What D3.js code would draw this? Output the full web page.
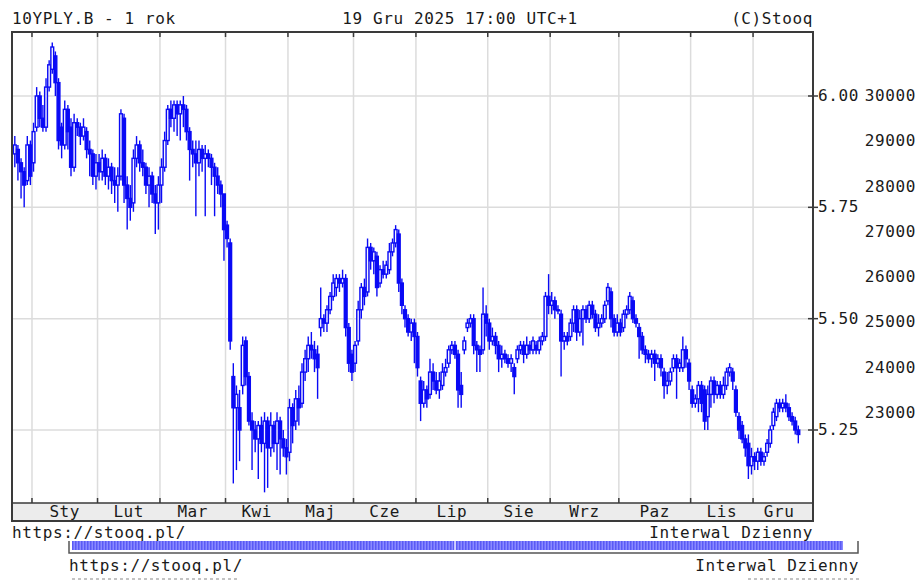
<!DOCTYPE html>
<html>
<head>
<meta charset="utf-8">
<script src="https://cdn.jsdelivr.net/npm/d3@7"></script>
<style>
  body { margin: 0; background: #fff; }
  svg text { font-family: "DejaVu Sans Mono", monospace; font-size: 16px; letter-spacing: 0.6px; fill: #1a1a1a; }
</style>
</head>
<body>
<div id="chart"></div>
<script>
// trading days per month, Dec 2024 tail first, then Jan..Dec 2025
var monthNames = ["", "Sty", "Lut", "Mar", "Kwi", "Maj", "Cze", "Lip", "Sie", "Wrz", "Paz", "Lis", "Gru"];
var monthDays = [6, 21, 20, 21, 20, 21, 20, 23, 20, 22, 23, 20, 15];

var yieldTicks = [5.25, 5.50, 5.75, 6.00];
var volTicks = [23000, 24000, 25000, 26000, 27000, 28000, 29000, 30000];

// daily candles (one line per month)
var openVals = [
  5.87,5.88,5.85,5.83,5.81,5.89,
  5.85,5.93,6.00,5.95,5.93,6.02,6.06,6.09,6.03,5.93,5.89,5.97,5.93,5.84,5.94,5.93,5.91,5.92,5.88,5.87,5.82,
  5.85,5.83,5.86,5.82,5.84,5.81,5.80,5.82,5.95,5.80,5.77,5.76,5.86,5.89,5.85,5.84,5.80,5.82,5.78,5.76,
  5.80,5.84,5.90,5.97,5.95,5.98,5.96,5.98,5.97,5.92,5.88,5.87,5.85,5.88,5.86,5.87,5.86,5.84,5.82,5.80,5.78,
  5.71,5.67,5.37,5.30,5.30,5.35,5.45,5.37,5.27,5.25,5.23,5.26,5.22,5.27,5.21,5.26,5.22,5.27,5.23,5.21,
  5.20,5.30,5.27,5.32,5.31,5.38,5.41,5.44,5.43,5.42,5.48,5.50,5.49,5.52,5.55,5.57,5.59,5.58,5.59,5.48,5.42,
  5.40,5.45,5.52,5.57,5.56,5.66,5.63,5.64,5.58,5.61,5.60,5.61,5.65,5.67,5.69,5.58,5.52,5.50,5.47,5.49,
  5.46,5.36,5.31,5.34,5.33,5.38,5.36,5.34,5.35,5.38,5.40,5.43,5.44,5.42,5.35,5.43,5.48,5.49,5.50,5.44,5.43,5.43,5.51,
  5.49,5.45,5.46,5.44,5.41,5.42,5.41,5.40,5.39,5.41,5.43,5.44,5.42,5.44,5.43,5.44,5.43,5.45,5.46,5.55,
  5.53,5.54,5.52,5.51,5.45,5.46,5.46,5.49,5.52,5.47,5.50,5.52,5.50,5.53,5.51,5.48,5.49,5.50,5.54,5.56,5.50,5.47,
  5.49,5.48,5.51,5.52,5.54,5.50,5.48,5.46,5.43,5.42,5.41,5.42,5.40,5.41,5.38,5.35,5.36,5.39,5.41,5.39,5.39,5.43,5.40,
  5.34,5.31,5.32,5.35,5.34,5.28,5.33,5.36,5.33,5.35,5.33,5.35,5.38,5.38,5.34,5.28,5.26,5.23,5.22,5.17,
  5.19,5.18,5.20,5.18,5.20,5.22,5.26,5.28,5.31,5.30,5.31,5.30,5.28,5.27,5.25
];
var highVals = [
  5.91,5.89,5.86,5.84,5.91,5.90,
  5.94,6.02,6.01,5.98,6.04,6.08,6.12,6.10,6.04,5.94,5.99,5.98,5.95,5.96,5.95,5.94,5.95,5.93,5.90,5.88,5.87,
  5.87,5.88,5.87,5.86,5.85,5.84,5.84,5.97,5.96,5.82,5.80,5.88,5.91,5.90,5.88,5.85,5.84,5.83,5.80,5.82,
  5.86,5.92,5.98,5.99,5.99,5.99,5.99,6.00,5.98,5.93,5.90,5.90,5.90,5.89,5.89,5.88,5.87,5.85,5.84,5.81,5.78,
  5.72,5.68,5.40,5.35,5.34,5.46,5.46,5.38,5.29,5.27,5.27,5.28,5.29,5.28,5.29,5.27,5.29,5.28,5.25,5.23,
  5.32,5.31,5.34,5.35,5.40,5.43,5.46,5.47,5.45,5.44,5.57,5.51,5.53,5.56,5.60,5.60,5.60,5.61,5.60,5.49,5.43,
  5.45,5.54,5.58,5.59,5.68,5.67,5.66,5.65,5.62,5.63,5.63,5.67,5.68,5.71,5.70,5.59,5.53,5.51,5.50,5.50,
  5.47,5.37,5.36,5.35,5.41,5.40,5.38,5.38,5.40,5.41,5.44,5.45,5.45,5.43,5.38,5.46,5.50,5.51,5.51,5.45,5.44,5.57,5.53,
  5.50,5.48,5.47,5.45,5.44,5.43,5.42,5.42,5.40,5.44,5.45,5.45,5.46,5.45,5.46,5.45,5.46,5.47,5.56,5.60,
  5.56,5.55,5.53,5.52,5.47,5.47,5.50,5.53,5.53,5.52,5.53,5.53,5.54,5.54,5.52,5.51,5.51,5.54,5.58,5.57,5.51,5.51,
  5.50,5.52,5.53,5.56,5.55,5.51,5.49,5.47,5.44,5.43,5.43,5.43,5.42,5.42,5.39,5.38,5.39,5.42,5.42,5.41,5.46,5.44,5.41,
  5.35,5.33,5.36,5.36,5.35,5.35,5.37,5.37,5.36,5.36,5.37,5.39,5.40,5.39,5.35,5.29,5.27,5.24,5.24,5.21,
  5.20,5.21,5.21,5.20,5.23,5.26,5.30,5.32,5.32,5.32,5.33,5.31,5.29,5.28,5.26
];
var lowVals = [
  5.84,5.81,5.77,5.75,5.80,5.80,
  5.83,5.92,5.93,5.92,5.92,6.01,6.05,6.00,5.88,5.86,5.88,5.88,5.82,5.83,5.91,5.89,5.90,5.86,5.82,5.80,5.79,
  5.81,5.81,5.80,5.79,5.78,5.76,5.74,5.81,5.76,5.70,5.72,5.74,5.84,5.83,5.82,5.78,5.75,5.76,5.69,5.70,
  5.76,5.83,5.89,5.93,5.92,5.91,5.90,5.93,5.90,5.81,5.84,5.73,5.82,5.83,5.73,5.84,5.80,5.73,5.78,5.75,5.63,
  5.66,5.43,5.13,5.16,5.18,5.33,5.35,5.26,5.16,5.20,5.14,5.20,5.11,5.12,5.19,5.20,5.16,5.15,5.19,5.15,
  5.18,5.22,5.25,5.26,5.30,5.36,5.38,5.41,5.38,5.32,5.46,5.47,5.47,5.51,5.54,5.55,5.56,5.57,5.46,5.38,5.36,
  5.38,5.44,5.50,5.53,5.55,5.61,5.60,5.55,5.57,5.59,5.59,5.60,5.64,5.66,5.56,5.51,5.48,5.46,5.45,5.40,
  5.37,5.27,5.30,5.30,5.32,5.34,5.33,5.32,5.34,5.37,5.39,5.42,5.41,5.30,5.30,5.42,5.47,5.48,5.42,5.38,5.38,5.42,5.46,
  5.43,5.44,5.42,5.38,5.39,5.40,5.39,5.38,5.33,5.40,5.42,5.40,5.41,5.42,5.42,5.42,5.42,5.44,5.45,5.51,
  5.51,5.50,5.51,5.37,5.43,5.44,5.45,5.47,5.45,5.46,5.44,5.49,5.49,5.50,5.47,5.46,5.48,5.49,5.53,5.48,5.46,5.46,
  5.46,5.47,5.50,5.51,5.49,5.48,5.41,5.42,5.40,5.40,5.39,5.36,5.39,5.37,5.32,5.33,5.35,5.38,5.32,5.38,5.38,5.39,5.34,
  5.30,5.30,5.29,5.29,5.25,5.25,5.30,5.31,5.32,5.32,5.32,5.34,5.37,5.34,5.28,5.23,5.22,5.19,5.14,5.15,
  5.16,5.16,5.17,5.17,5.19,5.21,5.25,5.27,5.29,5.29,5.29,5.27,5.26,5.24,5.22
];
var closeVals = [
  5.89,5.85,5.83,5.80,5.89,5.82,
  5.92,6.00,5.95,5.93,6.02,6.07,6.11,6.03,5.90,5.89,5.97,5.92,5.84,5.94,5.93,5.91,5.93,5.88,5.87,5.82,5.85,
  5.83,5.86,5.82,5.84,5.81,5.80,5.82,5.96,5.80,5.77,5.75,5.86,5.89,5.85,5.84,5.80,5.82,5.78,5.76,5.80,
  5.84,5.90,5.97,5.95,5.98,5.96,5.98,5.97,5.92,5.88,5.87,5.85,5.88,5.86,5.87,5.86,5.84,5.82,5.80,5.78,5.70,
  5.68,5.45,5.30,5.33,5.25,5.44,5.37,5.27,5.25,5.23,5.26,5.22,5.27,5.21,5.26,5.22,5.27,5.23,5.21,5.19,
  5.30,5.26,5.32,5.30,5.38,5.41,5.44,5.43,5.41,5.39,5.50,5.49,5.52,5.55,5.58,5.59,5.58,5.59,5.48,5.40,5.38,
  5.44,5.52,5.57,5.55,5.66,5.63,5.65,5.57,5.61,5.60,5.62,5.65,5.67,5.70,5.58,5.53,5.50,5.47,5.49,5.46,
  5.39,5.31,5.34,5.32,5.38,5.36,5.34,5.36,5.38,5.39,5.43,5.44,5.42,5.34,5.33,5.45,5.49,5.50,5.44,5.43,5.42,5.51,5.49,
  5.45,5.46,5.44,5.41,5.42,5.41,5.40,5.41,5.37,5.43,5.44,5.42,5.44,5.43,5.45,5.43,5.45,5.46,5.55,5.53,
  5.54,5.52,5.52,5.45,5.46,5.45,5.49,5.52,5.47,5.50,5.52,5.50,5.53,5.51,5.48,5.49,5.50,5.53,5.57,5.50,5.47,5.49,
  5.47,5.51,5.52,5.55,5.50,5.49,5.46,5.43,5.42,5.41,5.42,5.40,5.41,5.39,5.35,5.36,5.38,5.41,5.39,5.40,5.43,5.41,5.36,
  5.31,5.32,5.35,5.31,5.27,5.33,5.36,5.33,5.35,5.33,5.35,5.38,5.39,5.36,5.29,5.25,5.23,5.21,5.17,5.19,
  5.18,5.20,5.18,5.19,5.22,5.25,5.29,5.31,5.30,5.31,5.30,5.28,5.27,5.25,5.24
];

var svgWidth = 920;
var svgHeight = 585;

// plot box
var plot = { left: 12, right: 813, top: 32, bottom: 503, band: 18 };

var svg = d3.select("#chart")
  .append("svg")
  .attr("width", svgWidth)
  .attr("height", svgHeight);

// build candles
var nDays = d3.min([openVals.length, highVals.length, lowVals.length, closeVals.length]);
var candles = d3.range(nDays).map(function(i) {
  return { i: i, o: openVals[i], h: highVals[i], l: lowVals[i], c: closeVals[i] };
});

// month boundaries (index where each month starts)
var starts = [];
var acc = 0;
monthDays.forEach(function(d) { starts.push(acc); acc += d; });

var xScale = d3.scaleLinear()
  .domain([-0.9, acc + 3.7])
  .range([plot.left, plot.right]);

var yScale = d3.scaleLinear()
  .domain([5.25, 6.00])
  .range([430, 96]);

var volScale = d3.scaleLinear()
  .domain([23000, 30000])
  .range([413, 96]);

svg.append("clipPath").attr("id", "plotclip")
  .append("rect")
  .attr("x", plot.left).attr("y", plot.top)
  .attr("width", plot.right - plot.left).attr("height", plot.bottom - plot.top);

// gridlines
var grid = svg.append("g").attr("stroke", "#dcdcdc").attr("stroke-width", 1.5);
grid.selectAll(".hg")
  .data(yieldTicks)
  .enter()
  .append("line")
  .attr("x1", plot.left).attr("x2", plot.right)
  .attr("y1", d => yScale(d)).attr("y2", d => yScale(d));

var bounds = starts.slice(1);
grid.selectAll(".vg")
  .data(bounds)
  .enter()
  .append("line")
  .attr("x1", d => xScale(d - 0.5)).attr("x2", d => xScale(d - 0.5))
  .attr("y1", plot.top).attr("y2", plot.bottom);

// candles
var cg = svg.append("g").attr("clip-path", "url(#plotclip)");
var blue = "#0a0af5";

cg.selectAll(".wick")
  .data(candles)
  .enter()
  .append("line")
  .attr("x1", d => xScale(d.i)).attr("x2", d => xScale(d.i))
  .attr("y1", d => yScale(d.h)).attr("y2", d => yScale(d.l))
  .attr("stroke", blue)
  .attr("stroke-width", 1.4);

cg.selectAll(".body")
  .data(candles)
  .enter()
  .append("rect")
  .attr("x", d => xScale(d.i) - 1.4)
  .attr("width", 2.8)
  .attr("y", d => yScale(Math.max(d.o, d.c)))
  .attr("height", d => Math.max(1, Math.abs(yScale(d.o) - yScale(d.c))))
  .attr("fill", d => d.c >= d.o ? "#f4f4ff" : blue)
  .attr("stroke", blue)
  .attr("stroke-width", 1.4);

// month band
svg.append("rect")
  .attr("x", plot.left).attr("y", plot.bottom)
  .attr("width", plot.right - plot.left).attr("height", plot.band)
  .attr("fill", "#ececec");

// ticks on top / bottom at month boundaries
var tk = svg.append("g").attr("stroke", "#3a3a3a").attr("stroke-width", 1.5);
bounds.forEach(function(b) {
  var x = xScale(b - 0.5);
  tk.append("line").attr("x1", x).attr("x2", x).attr("y1", plot.top).attr("y2", plot.top + 5);
  tk.append("line").attr("x1", x).attr("x2", x).attr("y1", plot.bottom - 5).attr("y2", plot.bottom);
});
yieldTicks.forEach(function(t) {
  tk.append("line").attr("x1", plot.right - 5).attr("x2", plot.right + 5)
    .attr("y1", yScale(t)).attr("y2", yScale(t));
});

// frame
svg.append("rect")
  .attr("x", plot.left).attr("y", plot.top)
  .attr("width", plot.right - plot.left).attr("height", plot.bottom + plot.band - plot.top)
  .attr("fill", "none").attr("stroke", "#3a3a3a").attr("stroke-width", 2);
svg.append("line")
  .attr("x1", plot.left).attr("x2", plot.right)
  .attr("y1", plot.bottom).attr("y2", plot.bottom)
  .attr("stroke", "#3a3a3a").attr("stroke-width", 1.5);

// month labels
var edges = bounds.map(b => xScale(b - 0.5));
edges.push(plot.right);
var leftEdges = [plot.left].concat(edges.slice(0, -1));
svg.append("g").selectAll("text")
  .data(monthNames)
  .enter()
  .append("text")
  .attr("x", (d, i) => (leftEdges[i] + edges[i]) / 2 - (i === monthNames.length - 1 ? 4 : 0))
  .attr("y", plot.bottom + 14)
  .attr("text-anchor", "middle")
  .text(d => d);

// right axis labels
svg.append("g").selectAll("text")
  .data(yieldTicks)
  .enter()
  .append("text")
  .attr("x", 818)
  .attr("y", d => yScale(d) + 5)
  .text(d => d.toFixed(2));

svg.append("g").selectAll("text")
  .data(volTicks)
  .enter()
  .append("text")
  .attr("x", 916)
  .attr("y", d => volScale(d) + 5)
  .attr("text-anchor", "end")
  .text(d => d);

// header
svg.append("text").attr("x", 12).attr("y", 24).text("10YPLY.B - 1 rok");
svg.append("text").attr("x", 460).attr("y", 24).attr("text-anchor", "middle").text("19 Gru 2025 17:00 UTC+1");
svg.append("text").attr("x", 813).attr("y", 24).attr("text-anchor", "end").text("(C)Stooq");

// footer
svg.append("text").attr("x", 12).attr("y", 538).text("https://stooq.pl/");
svg.append("text").attr("x", 813).attr("y", 538).attr("text-anchor", "end").text("Interwal Dzienny");

// navigator strip
var defs = svg.append("defs");
var pat = defs.append("pattern")
  .attr("id", "stripes").attr("patternUnits", "userSpaceOnUse")
  .attr("width", 3).attr("height", 10);
pat.append("rect").attr("width", 3).attr("height", 10).attr("fill", "#8a8aff");
pat.append("rect").attr("width", 1.5).attr("height", 10).attr("fill", "#5a5af5");

svg.append("rect")
  .attr("x", 72).attr("y", 541)
  .attr("width", 771).attr("height", 9)
  .attr("fill", "url(#stripes)");
svg.append("line")
  .attr("x1", 455).attr("x2", 455).attr("y1", 541).attr("y2", 550)
  .attr("stroke", "#ffffff").attr("stroke-width", 1.2);

svg.append("path")
  .attr("d", "M69,541 V553 H858 V541")
  .attr("fill", "none")
  .attr("stroke", "#555")
  .attr("stroke-width", 1.5);

svg.append("text").attr("x", 69).attr("y", 571).text("https://stooq.pl/");
svg.append("text").attr("x", 859).attr("y", 571).attr("text-anchor", "end").text("Interwal Dzienny");

// cut-off line below the second footer
svg.append("line")
  .attr("x1", 72).attr("x2", 240).attr("y1", 579).attr("y2", 579)
  .attr("stroke", "#b0b0b0").attr("stroke-width", 1.5).attr("stroke-dasharray", "3,3");
svg.append("line")
  .attr("x1", 748).attr("x2", 860).attr("y1", 579).attr("y2", 579)
  .attr("stroke", "#b0b0b0").attr("stroke-width", 1.5).attr("stroke-dasharray", "3,3");
</script>
</body>
</html>
